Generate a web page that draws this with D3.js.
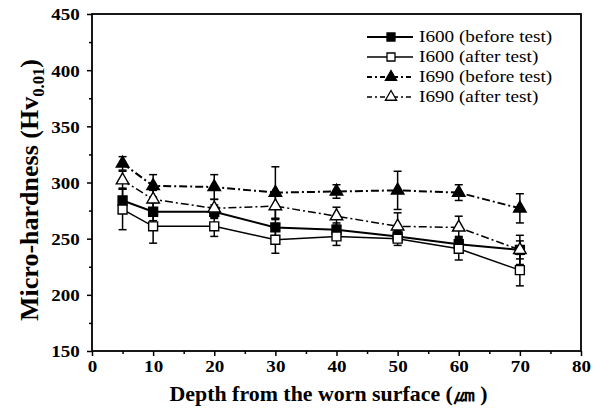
<!DOCTYPE html>
<html>
<head>
<meta charset="utf-8">
<script src="https://cdn.jsdelivr.net/npm/d3@7"></script>
<style>
	body { margin: 0; background: #fff; }
	svg text { font-family: "Liberation Serif", "Times New Roman", serif; fill: #000; }
</style>
</head>
<body>
<div id="chart"></div>
<script>
// values
var depth = [5, 10, 20, 30, 40, 50, 60, 70]

var i600Before = [284, 274, 274, 260, 258, 252, 245, 240]
var i600BeforeErr = [11, 8, 6, 8, 6, 5, 7, 8]
var i600After = [276, 261, 261, 249, 252, 250, 241, 222]
var i600AfterErr = [18, 15, 9, 12, 8, 6, 10, 14]
var i690Before = [317, 297, 296, 291, 292, 293, 291, 277]
var i690BeforeErr = [6, 10, 11, 23, 6, 17, 7, 13]
var i690After = [302, 285, 277, 279, 270, 261, 260, 240]
var i690AfterErr = [8, 8, 8, 12, 8, 12, 10, 13]

var seriesNames = ['I600 (before test)', 'I600 (after test)', 'I690 (before test)', 'I690 (after test)']
var xTicks = [0, 10, 20, 30, 40, 50, 60, 70, 80]
var yTicks = [150, 200, 250, 300, 350, 400, 450]

var width = 604
var height = 409
var margin = { top: 14, right: 23, bottom: 58, left: 92 }

var series = [
	{ name: seriesNames[0], values: i600Before, err: i600BeforeErr, symbol: d3.symbolSquare, size: 80, fill: '#000', width: 2, dash: null },
	{ name: seriesNames[1], values: i600After, err: i600AfterErr, symbol: d3.symbolSquare, size: 80, fill: '#fff', width: 1.5, dash: null },
	{ name: seriesNames[2], values: i690Before, err: i690BeforeErr, symbol: d3.symbolTriangle, size: 68, fill: '#000', width: 2, dash: '8,3,2,3' },
	{ name: seriesNames[3], values: i690After, err: i690AfterErr, symbol: d3.symbolTriangle, size: 68, fill: '#fff', width: 1.5, dash: '8,3,2,3' }
]

var svg = d3.select('#chart').append('svg')
	.attr('width', width)
	.attr('height', height)

var x = d3.scaleLinear().domain([0, 80]).range([margin.left, width - margin.right])
var y = d3.scaleLinear().domain([150, 450]).range([height - margin.bottom, margin.top])

// minor ticks first, then the labelled ones
svg.append('g')
	.attr('transform', 'translate(0,' + y.range()[0] + ')')
	.call(d3.axisBottom(x).tickValues(d3.range(5, 80, 10)).tickSize(3).tickFormat(''))
	.call(function(g) { g.select('.domain').remove() })
	.selectAll('line').attr('stroke-width', 1.5)

svg.append('g')
	.attr('transform', 'translate(' + x.range()[0] + ',0)')
	.call(d3.axisLeft(y).tickValues(d3.range(175, 450, 50)).tickSize(3).tickFormat(''))
	.call(function(g) { g.select('.domain').remove() })
	.selectAll('line').attr('stroke-width', 1.5)

var xAxis = svg.append('g')
	.attr('transform', 'translate(0,' + y.range()[0] + ')')
	.call(d3.axisBottom(x).tickValues(xTicks).tickSize(5).tickPadding(4).tickSizeOuter(0))
xAxis.select('.domain').remove()
xAxis.selectAll('line').attr('stroke-width', 1.5)
xAxis.selectAll('text')
	.attr('font-size', 17)
	.attr('font-weight', 'bold')
	.attr('transform', 'scale(1.12,1)')
	.style('font-family', '"Liberation Serif", serif')

var yAxis = svg.append('g')
	.attr('transform', 'translate(' + x.range()[0] + ',0)')
	.call(d3.axisLeft(y).tickValues(yTicks).tickSize(5).tickPadding(6).tickSizeOuter(0))
yAxis.select('.domain').remove()
yAxis.selectAll('line').attr('stroke-width', 1.5)
yAxis.selectAll('text')
	.attr('font-size', 17)
	.attr('font-weight', 'bold')
	.attr('dy', '0.35em')
	.attr('transform', 'scale(1.12,1)')
	.style('font-family', '"Liberation Serif", serif')

// frame
svg.append('rect')
	.attr('x', x.range()[0])
	.attr('y', y.range()[1])
	.attr('width', x.range()[1] - x.range()[0])
	.attr('height', y.range()[0] - y.range()[1])
	.attr('fill', 'none')
	.attr('stroke', '#000')
	.attr('stroke-width', 1.8)

var line = d3.line()
	.x(function(d, i) { return x(depth[i]) })
	.y(function(d) { return y(d) })

var plot = svg.append('g')

series.forEach(function(s) {
	plot.append('path')
		.datum(s.values)
		.attr('d', line)
		.attr('fill', 'none')
		.attr('stroke', '#000')
		.attr('stroke-width', s.width)
		.attr('stroke-dasharray', s.dash)
})

series.forEach(function(s) {
	var eb = plot.append('g')
	s.values.forEach(function(v, i) {
		var cx = x(depth[i])
		eb.append('line')
			.attr('x1', cx).attr('x2', cx)
			.attr('y1', y(v - s.err[i])).attr('y2', y(v + s.err[i]))
			.attr('stroke', '#000').attr('stroke-width', 1.5)
		;[v - s.err[i], v + s.err[i]].forEach(function(e) {
			eb.append('line')
				.attr('x1', cx - 4).attr('x2', cx + 4)
				.attr('y1', y(e)).attr('y2', y(e))
				.attr('stroke', '#000').attr('stroke-width', 1.5)
		})
	})
})

series.forEach(function(s) {
	plot.selectAll(null)
		.data(s.values)
		.enter().append('path')
		.attr('transform', function(d, i) { return 'translate(' + x(depth[i]) + ',' + y(d) + ')' })
		.attr('d', d3.symbol().type(s.symbol).size(s.size))
		.attr('fill', s.fill)
		.attr('stroke', '#000')
		.attr('stroke-width', 1.4)
})

// legend
var legend = svg.append('g').attr('transform', 'translate(367,37)')
series.forEach(function(s, i) {
	var row = legend.append('g').attr('transform', 'translate(0,' + i * 20 + ')')
	row.append('line')
		.attr('x1', 0).attr('x2', 46)
		.attr('stroke', '#000')
		.attr('stroke-width', s.width)
		.attr('stroke-dasharray', s.dash ? '5,3,2,3' : null)
	row.append('path')
		.attr('transform', 'translate(24,0)')
		.attr('d', d3.symbol().type(s.symbol).size(s.size * 0.8))
		.attr('fill', s.fill)
		.attr('stroke', '#000')
		.attr('stroke-width', 1.3)
	row.append('text')
		.attr('transform', 'translate(52,5) scale(1.2,1)')
		.attr('font-size', 16)
		.text(s.name)
})

// axis titles
svg.append('text')
	.attr('x', (x.range()[0] + x.range()[1]) / 2 - 8)
	.attr('y', 401)
	.attr('text-anchor', 'middle')
	.attr('font-size', 21)
	.attr('font-weight', 'bold')
	.attr('textLength', 318)
	.attr('lengthAdjust', 'spacingAndGlyphs')
	.text('Depth from the worn surface (㎛ )')

var yTitle = svg.append('text')
	.attr('transform', 'translate(38,190) rotate(-90)')
	.attr('text-anchor', 'middle')
	.attr('font-size', 25)
	.attr('font-weight', 'bold')
	.attr('textLength', 262)
	.attr('lengthAdjust', 'spacingAndGlyphs')
yTitle.append('tspan').text('Micro-hardness (Hv')
yTitle.append('tspan').attr('font-size', 16).attr('dy', 6).text('0.01')
yTitle.append('tspan').attr('dy', -6).text(')')
</script>
</body>
</html>
